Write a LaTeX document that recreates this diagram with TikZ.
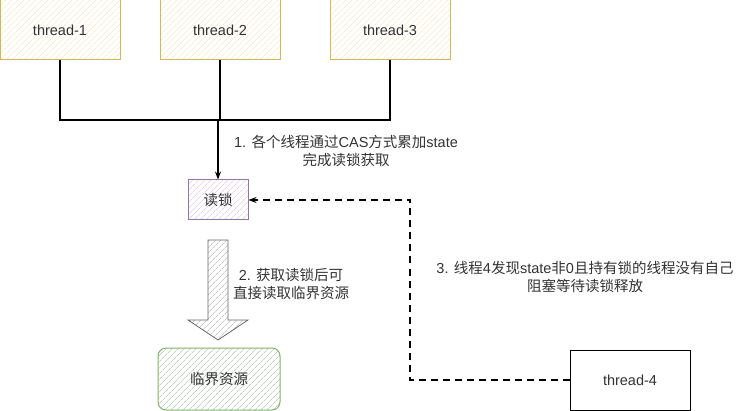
\documentclass[tikz,border=0pt]{standalone}
\usepackage{fontspec}
\setmainfont{Liberation Sans}
\newfontfamily\cjk{Noto Sans CJK SC}
\usepackage{tikz}
\usetikzlibrary{
  arrows.meta,
  positioning,
  patterns.meta,
  calc
}
\definecolor{ylwline}{HTML}{D6B656}
\definecolor{ylwfill}{HTML}{FFF2CC}
\definecolor{purline}{HTML}{9673A6}
\definecolor{purfill}{HTML}{E1D5E7}
\definecolor{grnline}{HTML}{82B366}
\definecolor{grnfill}{HTML}{D5E8D4}
\definecolor{txtgray}{HTML}{333333}

\begin{document}
\begin{tikzpicture}[
    x=1pt, y=-1pt,
    every node/.style={font=\fontsize{14.5}{17.5}\selectfont, text=txtgray},
    box/.style={draw, minimum width=120pt, minimum height=60pt,
                align=center, line width=1pt},
    hatch/.style={preaction={fill=white},
                  pattern={Lines[angle=45, distance=4pt, line width=0.7pt]}},
    thr/.style={box, hatch, draw=ylwline, pattern color=ylwfill!70!ylwline!60},
    lockbox/.style={box, hatch, draw=purline, pattern color=purfill,
                    minimum width=60pt, minimum height=40pt},
    resbox/.style={box, hatch, draw=grnline, pattern color=grnfill!90!black,
                   rounded corners=8pt, minimum width=122pt, minimum height=62pt},
    plain/.style={box, draw=black, fill=white},
    wire/.style={line width=1.2pt, black},
    arr/.style={-{Stealth[length=8pt, width=6pt]}, line width=1.8pt, black},
    darr/.style={-{Stealth[length=8pt, width=6pt]}, line width=1.2pt, black,
                 dash pattern=on 7pt off 5pt},
    lbl/.style={align=center},
  ]
  \useasboundingbox (0,0) rectangle (751,411);

  % ---- Threads ----
  \node[thr] (t1) at (60,30) {thread-1};
  \node[thr] (t2) at (220,30) {thread-2};
  \node[thr] (t3) at (390,30) {thread-3};
  \node[plain] (t4) at (630,380) {thread-4};

  % ---- Lock and resource ----
  \node[lockbox] (lock) at (218,200) {\cjk 读锁};
  \node[resbox] (res) at (219,379) {\cjk 临界资源};

  % ---- Joining lines ----
  \coordinate (join) at (218,120);
  \coordinate (turn) at (410,200);
  \draw[wire] (t1.south) |- (join);
  \draw[wire] (t3.south) |- (join);
  \draw[wire] (t2.south) |- (join);
  \draw[arr] (join) -- (lock.north);
  \node[lbl] (s1) at (346,151)
    {1. {\cjk 各个线程通过}CAS{\cjk 方式累加}state\\{\cjk 完成读锁获取}};

  % ---- Block arrow ----
  \draw[line width=0.8pt, draw=black!60, hatch, pattern color=black!22]
    (208,240) -- (228,240) -- (228,320) -- (248,320) -- (218,340)
    -- (188,320) -- (208,320) -- cycle;
  \node[lbl] (s2) at (291,284) {2. {\cjk 获取读锁后可}\\{\cjk 直接读取临界资源}};

  % ---- Waiting thread ----
  \draw[darr] (t4.west) -| (turn) -- (lock.east);
  \node[lbl] (s3) at (585,277)
    {3. {\cjk 线程}4{\cjk 发现}state{\cjk 非}0{\cjk 且持有锁的线程没有自己}\\{\cjk 阻塞等待读锁释放}};

\end{tikzpicture}
\end{document}
